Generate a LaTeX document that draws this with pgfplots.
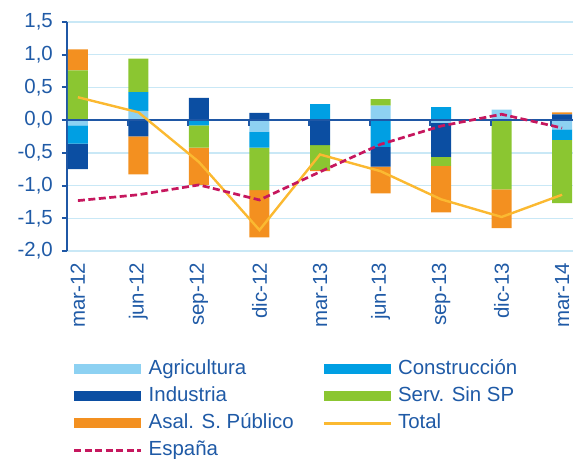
\documentclass[border=0pt]{standalone}
\usepackage{pgfplots}
\pgfplotsset{compat=1.18}
\usepackage{pgfplotstable}
\usepackage{fontspec}
\setmainfont{Liberation Sans}
\definecolor{txt}{HTML}{1F5AA6}
\definecolor{axisblue}{HTML}{1F57A5}
\definecolor{gridblue}{HTML}{C9E8F6}
\definecolor{cagri}{HTML}{8DD1F2}
\definecolor{cconstr}{HTML}{009FE3}
\definecolor{cind}{HTML}{0B4EA2}
\definecolor{cserv}{HTML}{8BC631}
\definecolor{casal}{HTML}{F39020}
\definecolor{ctotal}{HTML}{FBB931}
\definecolor{cesp}{HTML}{C6175E}

% positive parts of each component
\pgfplotstableread{
x agri constr ind serv asal
0 0    0     0    0.76 0.32
1 0.14 0.29  0    0.51 0
2 0    0     0.34 0    0
3 0    0     0.11 0    0
4 0    0.245 0    0    0
5 0.22 0     0    0.10 0
6 0    0.20  0    0    0
7 0.16 0     0    0    0
8 0    0     0.09 0    0.03
}\postab
% negative parts of each component
\pgfplotstableread{
x agri constr ind serv asal
0 -0.08 -0.28 -0.39 0     0
1 0     0     -0.25 0     -0.58
2 0     -0.08 0     -0.34 -0.57
3 -0.18 -0.24 0     -0.65 -0.72
4 0     0     -0.38 -0.38 -0.02
5 0     -0.41 -0.30 0     -0.41
6 -0.04 0     -0.52 -0.14 -0.71
7 0     0     0     -1.06 -0.59
8 -0.14 -0.16 0     -0.97 0
}\negtab
\pgfplotstableread{
x total espana
0 0.35 -1.23
1 0.12 -1.14
2 -0.64 -0.99
3 -1.68 -1.22
4 -0.525 -0.79
5 -0.78 -0.37
6 -1.21 -0.09
7 -1.48 0.09
8 -1.14 -0.12
}\linetab

\pgfplotsset{
  base/.style={scale only axis, width=506bp, height=229bp,
    xmin=-0.18, xmax=8.18, ymin=-2, ymax=1.5, at={(0,0)}, anchor=south west},
  barleg/.style={legend image code/.code={\fill[##1] (0bp,-5bp) rectangle (67bp,5bp);}},
  lineleg/.style={legend image code/.code={\draw[##1] (0bp,0bp) -- (67bp,0bp);}},
}
\newcommand{\bigfont}{\fontsize{20.5}{24}\selectfont}

\begin{document}
\begin{tikzpicture}
\useasboundingbox (-67bp,-208bp) rectangle (506bp,251bp);
\begin{axis}[base,
  ybar stacked, bar width=20bp,
  axis x line*=bottom, axis y line*=left,
  x axis line style={draw=none},
  y axis line style={color=axisblue, line width=2bp},
  xtick={0,...,8},
  xticklabels={mar-12,jun-12,sep-12,dic-12,mar-13,jun-13,sep-13,dic-13,mar-14},
  major x tick style={draw=none},
  xticklabel style={rotate=90, anchor=east, inner sep=0pt, font=\bigfont, text=txt},
  xticklabel shift=7bp,
  ytick={-2,-1.5,...,1.5},
  yticklabel style={inner sep=0pt, font=\bigfont, text=txt,
    /pgf/number format/.cd, fixed, fixed zerofill, precision=1, use comma, assume math mode=true},
  yticklabel shift=9bp,
  tick align=outside,
  major tick length=5bp,
  major y tick style={color=axisblue, line width=2bp},
  ymajorgrids, grid style={color=gridblue, line width=1.5bp},
  legend columns=2,
  legend cell align=left,
  legend style={at={(rel axis cs:0.0119,-0.478)}, anchor=north west,
    draw=none, fill=none, inner sep=0pt, outer sep=0pt,
    font=\bigfont, text=txt, row sep=9bp,
    nodes={inner sep=0pt, text height=14bp, text depth=4bp},
    /tikz/every odd column/.append style={column sep=6bp},
    /tikz/every even column/.append style={column sep=29bp}},
]
\addplot[fill=cagri, draw=none, barleg] table[x=x, y=agri] {\postab};
\addlegendentry{Agricultura}
\addplot[fill=cconstr, draw=none, barleg] table[x=x, y=constr] {\postab};
\addlegendentry{Construcción}
\addplot[fill=cind, draw=none, barleg] table[x=x, y=ind] {\postab};
\addlegendentry{Industria}
\addplot[fill=cserv, draw=none, barleg] table[x=x, y=serv] {\postab};
\addlegendentry{Serv. Sin SP}
\addplot[fill=casal, draw=none, barleg] table[x=x, y=asal] {\postab};
\addlegendentry{Asal. S. Público}
\addlegendimage{lineleg, color=ctotal, line width=2.4bp}
\addlegendentry{Total}
\addlegendimage{lineleg, color=cesp, line width=2.7bp, dash pattern=on 7bp off 3.5bp}
\addlegendentry{España}
\end{axis}

\begin{axis}[base, hide axis, ybar stacked, bar width=20bp, clip=false]
\addplot[fill=cagri, draw=none] table[x=x, y=agri] {\negtab};
\addplot[fill=cconstr, draw=none] table[x=x, y=constr] {\negtab};
\addplot[fill=cind, draw=none] table[x=x, y=ind] {\negtab};
\addplot[fill=cserv, draw=none] table[x=x, y=serv] {\negtab};
\addplot[fill=casal, draw=none] table[x=x, y=asal] {\negtab};
\end{axis}

\begin{axis}[base, hide axis, clip=false]
\draw[axisblue, line width=2.4bp] (axis cs:-0.18,0) -- (axis cs:8.18,0);
\draw[axisblue, line width=2bp]
  (axis cs:0.82,0) -- ([yshift=-6bp]axis cs:0.82,0)
  (axis cs:1.82,0) -- ([yshift=-6bp]axis cs:1.82,0)
  (axis cs:2.82,0) -- ([yshift=-6bp]axis cs:2.82,0)
  (axis cs:3.82,0) -- ([yshift=-6bp]axis cs:3.82,0)
  (axis cs:4.82,0) -- ([yshift=-6bp]axis cs:4.82,0)
  (axis cs:5.82,0) -- ([yshift=-6bp]axis cs:5.82,0)
  (axis cs:6.82,0) -- ([yshift=-6bp]axis cs:6.82,0)
  (axis cs:7.82,0) -- ([yshift=-6bp]axis cs:7.82,0);
\addplot[color=ctotal, line width=2.4bp, mark=none] table[x=x, y=total] {\linetab};
\addplot[color=cesp, line width=2.7bp, dash pattern=on 7bp off 3.5bp, mark=none] table[x=x, y=espana] {\linetab};
\end{axis}
\end{tikzpicture}
\end{document}
